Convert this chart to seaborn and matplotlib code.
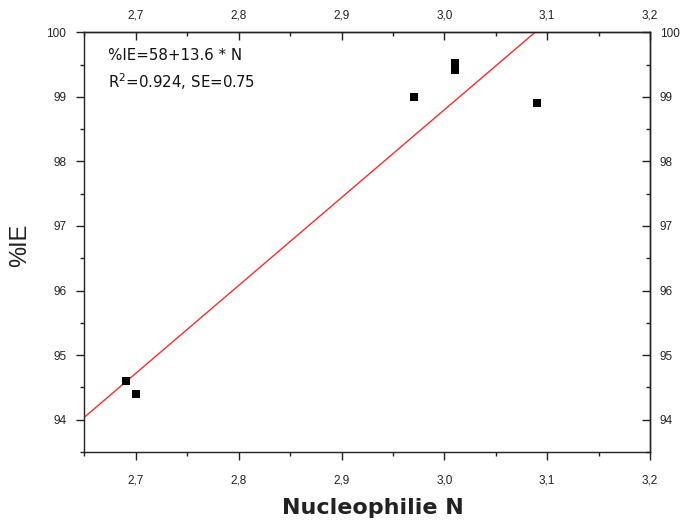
import matplotlib
matplotlib.use("Agg")
import matplotlib.pyplot as plt
import matplotlib.ticker as mticker
import seaborn as sns
import pandas as pd

# data
nucleophilie = [2.69, 2.70, 2.97, 3.01, 3.01, 3.09]
ie_percent = [94.6, 94.4, 99.0, 99.52, 99.42, 98.9]
fit_intercept = 58.0
fit_slope = 13.6
fit_x = [2.65, 3.20]
fit_y = [fit_intercept + fit_slope * v for v in fit_x]
x_ticks = [2.7, 2.8, 2.9, 3.0, 3.1, 3.2]
y_ticks = [94, 95, 96, 97, 98, 99, 100]
eq_text = "%IE=58+13.6 * N"
stat_text = "R$^2$=0.924, SE=0.75"
x_label = "Nucleophilie N"
y_label = "%IE"

sns.set_style("ticks")
plt.rcParams['font.family'] = ['Liberation Sans', 'DejaVu Sans']

df = pd.DataFrame({"N": nucleophilie, "IE": ie_percent})
fit_df = pd.DataFrame({"N": fit_x, "IE": fit_y})

fig = plt.figure(figsize=(6.89, 5.24), dpi=100)
ax = fig.add_axes([0.1226, 0.1374, 0.8208, 0.801])

sns.lineplot(data=fit_df, x="N", y="IE", ax=ax, color="#ff2a2a", lw=1.0)
sns.scatterplot(data=df, x="N", y="IE", ax=ax, marker="s", s=30, color="black",
                edgecolor="black", linewidth=0, zorder=3)

ax.set_xlim(2.65, 3.2)
ax.set_ylim(93.5, 100)
ax.set_xticks(x_ticks)
ax.set_yticks(y_ticks)
ax.xaxis.set_minor_locator(mticker.MultipleLocator(0.05))
ax.yaxis.set_minor_locator(mticker.MultipleLocator(0.5))
comma = mticker.FuncFormatter(lambda v, p: f"{v:.1f}".replace('.', ','))
ax.xaxis.set_major_formatter(comma)

for sp in ax.spines.values():
    sp.set_visible(True)
    sp.set_linewidth(1.0)
    sp.set_color("#222222")

ax.tick_params(axis="x", which="major", direction="out", length=6, width=1, pad=10,
               labelsize=8.5, colors="#222222")
ax.tick_params(axis="y", which="major", direction="out", length=6, width=1, pad=7,
               labelsize=8.5, colors="#222222")
ax.tick_params(which="minor", direction="out", length=3, width=1, colors="#222222")

top = ax.secondary_xaxis("top")
top.set_xticks(x_ticks)
top.xaxis.set_minor_locator(mticker.MultipleLocator(0.05))
top.xaxis.set_major_formatter(comma)
top.tick_params(which="major", direction="in", length=6, width=1, pad=8, labelsize=8.5,
                colors="#222222")
top.tick_params(which="minor", direction="in", length=3, width=1, colors="#222222")
top.spines["top"].set_linewidth(1.0)

right = ax.secondary_yaxis("right")
right.set_yticks(y_ticks)
right.yaxis.set_minor_locator(mticker.MultipleLocator(0.5))
right.tick_params(which="major", direction="in", length=6, width=1, pad=7, labelsize=8.5,
                  colors="#222222")
right.tick_params(which="minor", direction="in", length=3, width=1, colors="#222222")
right.spines["right"].set_linewidth(1.0)

ax.set_xlabel("")
ax.set_ylabel("")
fig.text(373 / 689, 1 - 508 / 524, x_label, ha="center", va="center", fontsize=16,
         fontweight="bold", family=["DejaVu Sans"], color="#222222")
fig.text(20 / 689, 1 - 245 / 524, y_label, ha="center", va="center", rotation=90,
         fontsize=17, color="#222222")

ax.text(108 / 689, 1 - 55 / 524, eq_text, transform=fig.transFigure, ha="left",
        va="center", fontsize=10.8, family=["DejaVu Sans"], color="#111111")
ax.text(108 / 689, 1 - 82 / 524, stat_text, transform=fig.transFigure, ha="left",
        va="center", fontsize=10.8, family=["DejaVu Sans"], color="#111111")

fig.savefig("out.png", dpi=100)
